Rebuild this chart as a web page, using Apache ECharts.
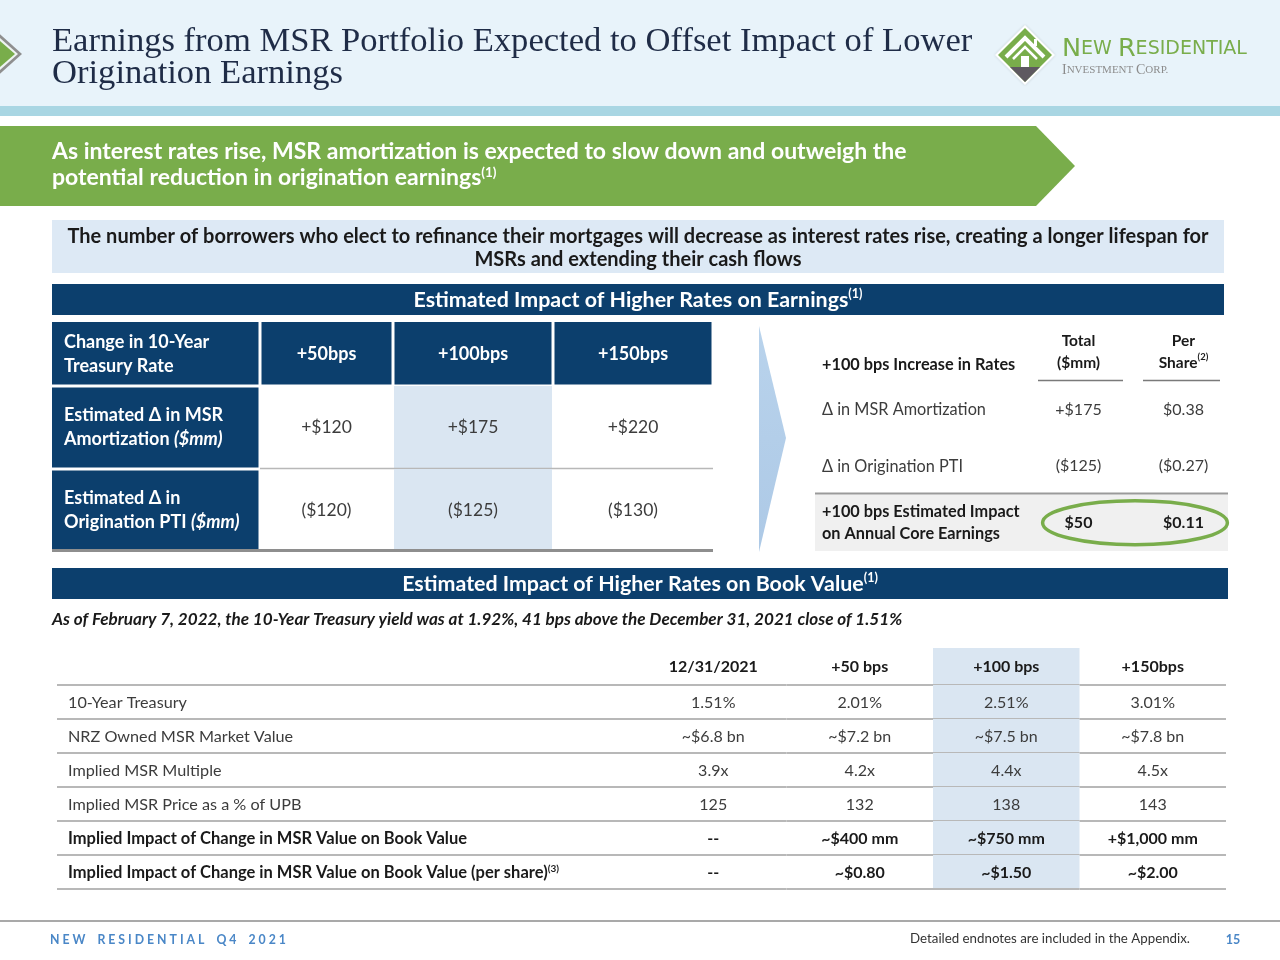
<!DOCTYPE html>
<html><head><meta charset="utf-8">
<script src="https://cdn.jsdelivr.net/npm/echarts@6/dist/echarts.min.js"></script>
<style>html,body{margin:0;padding:0;background:#fff}#c{width:1280px;height:960px}</style>
</head><body><div id="c"></div>
<script>
// ---------------- DATA ----------------
const titleLines = ['Earnings from MSR Portfolio Expected to Offset Impact of Lower', 'Origination Earnings'];
const bannerLines = ['As interest rates rise, MSR amortization is expected to slow down and outweigh the', 'potential reduction in origination earnings'];
const subtitleLines = ['The number of borrowers who elect to refinance their mortgages will decrease as interest rates rise, creating a longer lifespan for', 'MSRs and extending their cash flows'];
const earningsTitle = 'Estimated Impact of Higher Rates on Earnings';
const bookTitle = 'Estimated Impact of Higher Rates on Book Value';
const bookNote = 'As of February 7, 2022, the 10-Year Treasury yield was at 1.92%, 41 bps above the December 31, 2021 close of 1.51%';

// Earnings sensitivity table
const earningsHeaderLabel = ['Change in 10-Year', 'Treasury Rate'];
const rateShocks = ['+50bps', '+100bps', '+150bps'];
const earningsRowLabels = [['Estimated \u0394 in MSR', 'Amortization'], ['Estimated \u0394 in', 'Origination PTI']];
const earningsUnit = '($mm)';
const msrAmortizationChange = ['+$120', '+$175', '+$220'];
const originationPTIChange = ['($120)', '($125)', '($130)'];

// +100 bps summary table
const summaryHeaderLabel = '+100 bps Increase in Rates';
const summaryCols = [['Total', '($mm)'], ['Per', 'Share']];
const summaryColNotes = ['', '(2)'];
const summaryRowLabels = [['\u0394 in MSR Amortization'], ['\u0394 in Origination PTI'], ['+100 bps Estimated Impact', 'on Annual Core Earnings']];
const summaryTotal = ['+$175', '($125)', '$50'];
const summaryPerShare = ['$0.38', '($0.27)', '$0.11'];

// Book value table
const bookCols = ['12/31/2021', '+50 bps', '+100 bps', '+150bps'];
const bookRowLabels = ['10-Year Treasury', 'NRZ Owned MSR Market Value', 'Implied MSR Multiple', 'Implied MSR Price as a % of UPB', 'Implied Impact of Change in MSR Value on Book Value', 'Implied Impact of Change in MSR Value on Book Value (per share)'];
const bookRowNotes = ['', '', '', '', '', '(3)'];
const treasuryYield = ['1.51%', '2.01%', '2.51%', '3.01%'];
const msrMarketValue = ['~$6.8 bn', '~$7.2 bn', '~$7.5 bn', '~$7.8 bn'];
const msrMultiple = ['3.9x', '4.2x', '4.4x', '4.5x'];
const msrPricePctUPB = ['125', '132', '138', '143'];
const bookValueImpact = ['--', '~$400 mm', '~$750 mm', '+$1,000 mm'];
const bookValueImpactPerShare = ['--', '~$0.80', '~$1.50', '~$2.00'];

const footerLeft = 'NEW RESIDENTIAL Q4 2021';
const footerRight = 'Detailed endnotes are included in the Appendix.';
const pageNumber = '15';

// ---------------- STYLE ----------------
const SANS = 'Lato, "Noto Sans", sans-serif';
const SERIF = '"Liberation Serif", "DejaVu Serif", serif';
const NAVY = '#0c3f6d', GREEN = '#79ad4b', HILITE = '#dae6f2', DARK = '#1a1a1a', BODY = '#3c3c3c', LINE = '#b8b8b8';

function rs(size, weight, fill, style) {
  return { fontSize: size, fontWeight: weight || 'normal', fontStyle: style || 'normal', fontFamily: SANS, fill: fill, color: fill };
}
function supStyle(size, fill) {
  return { fontSize: size, fontWeight: 'bold', fontFamily: SANS, fill: fill, color: fill, verticalAlign: 'top', lineHeight: size };
}

// ---------------- TABLE HELPER ----------------
const grids = [], xAxes = [], yAxes = [], series = [];
function addTable(rect, cols, rows, cells, draw, z) {
  const gi = grids.length;
  grids.push({ left: rect[0], top: rect[1], width: rect[2], height: rect[3], show: false });
  xAxes.push({ type: 'category', gridIndex: gi, data: cols, show: false, boundaryGap: true });
  yAxes.push({ type: 'category', gridIndex: gi, data: rows, inverse: true, show: false, boundaryGap: true });
  series.push({
    type: 'custom', xAxisIndex: gi, yAxisIndex: gi, silent: true, clip: false, z: z || 2,
    data: cells.map(c => [c.col, c.row]),
    renderItem: function (params, api) {
      const cell = cells[params.dataIndex];
      const p = api.coord([api.value(0), api.value(1)]);
      const s = api.size([1, 1]);
      return { type: 'group', children: draw(cell, p[0] - s[0] / 2, p[1] - s[1] / 2, s[0], s[1]) };
    }
  });
}
function T(x, y, text, rich, align, va, extra) {
  return Object.assign({ type: 'text', style: { x: x, y: y, text: text, rich: rich, align: align || 'center', verticalAlign: va || 'middle' } }, extra || {});
}

// ---- Earnings table: header label ----
addTable([52, 322, 208, 64], ['label'], ['header'], [{ col: 0, row: 0, lines: earningsHeaderLabel }], (c, x, y, w, h) => [
  { type: 'rect', shape: { x: x, y: y, width: w - 1.5, height: h - 1.5 }, style: { fill: NAVY } },
  T(x + 12, y + h / 2, c.lines.map(l => '{b|' + l + '}').join('\n'), { b: Object.assign(rs(18, 'bold', '#fff'), { lineHeight: 24 }) }, 'left')
]);
// ---- Earnings table: header shocks + body (split into column groups) ----
const earnColGroups = [{ rect: [260, 0, 133], idx: [0] }, { rect: [393, 0, 320], idx: [1, 2] }];
earnColGroups.forEach(g => {
  const cols = g.idx.map(i => rateShocks[i]);
  addTable([g.rect[0], 322, g.rect[2], 64], cols, ['header'], cols.map((n, j) => ({ col: j, row: 0, text: n })), (c, x, y, w, h) => [
    { type: 'rect', shape: { x: x + 1.5, y: y, width: w - 3, height: h - 1.5 }, style: { fill: NAVY } },
    T(x + w / 2, y + h / 2, '{b|' + c.text + '}', { b: rs(18, 'bold', '#fff') })
  ]);
  const body = [msrAmortizationChange, originationPTIChange];
  const cells = [];
  body.forEach((arr, r) => g.idx.forEach((i, j) => cells.push({ col: j, row: r, text: arr[i], hi: rateShocks[i] === '+100bps' })));
  addTable([g.rect[0], 386, g.rect[2], 166], cols, ['amort', 'pti'], cells, (c, x, y, w, h) => {
    const out = [];
    if (c.hi) out.push({ type: 'rect', shape: { x: x + 1, y: y, width: w - 2, height: h }, style: { fill: HILITE } });
    if (c.row === 0) out.push({ type: 'line', shape: { x1: x, y1: y + h - 0.5, x2: x + w, y2: y + h - 0.5 }, style: { stroke: LINE, lineWidth: 1.5 } });
    else out.push({ type: 'line', shape: { x1: x, y1: y + h - 1.5, x2: x + w, y2: y + h - 1.5 }, style: { stroke: '#8e8e8e', lineWidth: 3 } });
    out.push(T(x + w / 2, y + h / 2, '{n|' + c.text + '}', { n: rs(17.5, 'normal', BODY) }));
    return out;
  });
});
// ---- Earnings table: body labels ----
addTable([52, 386, 208, 166], ['label'], ['amort', 'pti'], earningsRowLabels.map((l, r) => ({ col: 0, row: r, lines: l })), (c, x, y, w, h) => {
  const lines = c.lines.map((l, i) => '{b|' + l + (i === c.lines.length - 1 ? ' ' : '') + '}' + (i === c.lines.length - 1 ? '{bi|' + earningsUnit + '}' : ''));
  const out = [
    { type: 'rect', shape: { x: x, y: y + 1.5, width: w - 1.5, height: h - 3 }, style: { fill: NAVY } },
    T(x + 12, y + h / 2, lines.join('\n'), { b: Object.assign(rs(18, 'bold', '#fff'), { lineHeight: 24 }), bi: Object.assign(rs(18, 'bold', '#fff', 'italic'), { lineHeight: 24 }) }, 'left')
  ];
  if (c.row === 1) out.push({ type: 'line', shape: { x1: x, y1: y + h - 1.5, x2: x + w, y2: y + h - 1.5 }, style: { stroke: '#8e8e8e', lineWidth: 3 } });
  return out;
});

// ---- Summary table: labels ----
const sumRows = ['header', 'amort', 'pti', 'impact'];
const sumLabelCells = [{ col: 0, row: 0, lines: [summaryHeaderLabel], bold: true, header: true }].concat(
  summaryRowLabels.map((l, i) => ({ col: 0, row: i + 1, lines: l, bold: i === 2 })));
addTable([815, 325, 211, 226], ['label'], sumRows, sumLabelCells, (c, x, y, w, h) => {
  const out = [];
  if (c.row === 3) {
    out.push({ type: 'rect', shape: { x: x, y: y, width: w, height: h }, style: { fill: '#f0f0f0' } });
    out.push({ type: 'line', shape: { x1: x, y1: y - 1, x2: x + w, y2: y - 1 }, style: { stroke: '#9a9a9a', lineWidth: 2 } });
  }
  const st = Object.assign(rs(16.3, c.bold ? 'bold' : 'normal', c.bold ? DARK : BODY), { lineHeight: 22 });
  const cy = c.header ? y + h / 2 + 11 : y + h / 2;
  out.push(T(x + 7, cy, c.lines.map(l => '{t|' + l + '}').join('\n'), { t: st }, 'left'));
  return out;
});
// ---- Summary table: values ----
const sumCells = [];
summaryCols.forEach((lines, ci) => sumCells.push({ col: ci, row: 0, lines: lines, note: summaryColNotes[ci], header: true }));
[summaryTotal, summaryPerShare].forEach((arr, ci) => arr.forEach((v, r) => sumCells.push({ col: ci, row: r + 1, text: v })));
addTable([1026, 325, 210, 226], ['total', 'perShare'], sumRows, sumCells, (c, x, y, w, h) => {
  const out = [];
  const right = c.col === 1 ? x + w - 8 : x + w;
  if (c.row === 3) {
    out.push({ type: 'rect', shape: { x: x, y: y, width: right - x, height: h }, style: { fill: '#f0f0f0' } });
    out.push({ type: 'line', shape: { x1: x, y1: y - 1, x2: right, y2: y - 1 }, style: { stroke: '#9a9a9a', lineWidth: 2 } });
  }
  if (c.header) {
    const st = Object.assign(rs(15.5, 'bold', DARK), { lineHeight: 22 });
    const txt = c.lines.map((l, i) => '{t|' + l + '}' + (i === c.lines.length - 1 && c.note ? '{s|' + c.note + '}' : '')).join('\n');
    out.push(T(x + w / 2, y + h / 2 - 1, txt, { t: st, s: supStyle(9.5, DARK) }));
    out.push({ type: 'line', shape: { x1: x + 12, y1: y + h - 1, x2: right - 8, y2: y + h - 1 }, style: { stroke: '#7a7a7a', lineWidth: 1.5 } });
  } else {
    const bold = c.row === 3;
    out.push(T(x + w / 2, y + h / 2, '{t|' + c.text + '}', { t: rs(16, bold ? 'bold' : 'normal', bold ? DARK : BODY) }));
  }
  // highlight ring around the impact row, drawn with the last cell so it sits on top
  if (c.row === 3 && c.col === 1) {
    out.push({ type: 'ellipse', z2: 10, shape: { cx: x + 4, cy: y + h / 2, rx: w * 0.88, ry: 22 }, style: { fill: 'none', stroke: GREEN, lineWidth: 3.5 } });
  }
  return out;
});

// ---- Book value table ----
const bookData = [treasuryYield, msrMarketValue, msrMultiple, msrPricePctUPB, bookValueImpact, bookValueImpactPerShare];
const bookRowsCat = ['header'].concat(bookRowLabels);
const bookLabelCells = [{ col: 0, row: 0, text: '', note: '' }].concat(bookRowLabels.map((l, i) => ({ col: 0, row: i + 1, text: l, note: bookRowNotes[i], bold: i >= 4 })));
addTable([57, 651, 583, 238], ['label'], bookRowsCat, bookLabelCells, (c, x, y, w, h) => {
  const out = [{ type: 'line', shape: { x1: x, y1: y + h, x2: x + w, y2: y + h }, style: { stroke: LINE, lineWidth: 2 } }];
  if (c.text) {
    const st = rs(c.bold ? 16.5 : 16.2, c.bold ? 'bold' : 'normal', c.bold ? DARK : BODY);
    out.push(T(x + 11, y + h / 2 + 1, '{t|' + c.text + '}' + (c.note ? '{s|' + c.note + '}' : ''), { t: Object.assign(st, { lineHeight: 18 }), s: supStyle(10, DARK) }, 'left'));
  }
  return out;
});
const bookCells = [];
bookCols.forEach((n, ci) => bookCells.push({ col: ci, row: 0, text: n, bold: true, hi: n === '+100 bps' }));
bookData.forEach((arr, r) => arr.forEach((v, ci) => bookCells.push({ col: ci, row: r + 1, text: v, bold: r >= 4, hi: bookCols[ci] === '+100 bps' })));
addTable([640, 651, 586, 238], bookCols, bookRowsCat, bookCells, (c, x, y, w, h) => {
  const out = [];
  if (c.hi) out.push({ type: 'rect', shape: { x: x, y: c.row === 0 ? y - 3 : y, width: w, height: c.row === 0 ? h + 3 : h }, style: { fill: HILITE } });
  out.push({ type: 'line', shape: { x1: x, y1: y + h, x2: x + w, y2: y + h }, style: { stroke: LINE, lineWidth: 2 } });
  out.push(T(x + w / 2, y + h / 2 + (c.row === 0 ? -1 : 1), '{t|' + c.text + '}', { t: rs(16, c.bold ? 'bold' : 'normal', c.bold ? DARK : BODY) }));
  return out;
});

// ---------------- DECORATION (graphic) ----------------
function gt(x, y, text, rich, align, va) {
  return { type: 'text', silent: true, style: { x: x, y: y, text: text, rich: rich, align: align || 'left', verticalAlign: va || 'middle' } };
}
const titleStyle = { fontSize: 34.6, fontFamily: SERIF, fill: '#1f2c47', color: '#1f2c47' };
const logoBig = { fontSize: 25.5, fontFamily: '"DejaVu Sans", sans-serif', fill: GREEN, color: GREEN };
const logoSmall = { fontSize: 19, fontFamily: '"DejaVu Sans", sans-serif', fill: GREEN, color: GREEN };
const graphic = [
  { type: 'rect', shape: { x: 0, y: 0, width: 1280, height: 106 }, style: { fill: '#e8f3fa' } },
  { type: 'rect', shape: { x: 0, y: 106, width: 1280, height: 10 }, style: { fill: '#a9d6e3' } },
  // left diamond
  { type: 'polygon', shape: { points: [[-8, 27], [22, 54], [-8, 81], [-38, 54]] }, style: { fill: '#8f8f8f' } },
  { type: 'polygon', shape: { points: [[-8, 31], [18, 54], [-8, 77], [-34, 54]] }, style: { fill: '#eef4f2' } },
  { type: 'polygon', shape: { points: [[-8, 34], [15, 54], [-8, 74], [-31, 54]] }, style: { fill: GREEN } },
  // title
  gt(52, 42, '{t|' + titleLines[0] + '}', { t: titleStyle }),
  gt(52, 74, '{t|' + titleLines[1] + '}', { t: titleStyle }),
  // logo
  { type: 'polygon', shape: { points: [[1025, 25], [1055, 55], [1025, 85], [995, 55]] }, style: { fill: '#ffffff', shadowBlur: 3, shadowColor: 'rgba(0,0,0,0.15)' } },
  { type: 'polygon', shape: { points: [[1025, 28], [1052, 55], [1025, 82], [998, 55]] }, style: { fill: GREEN } },
  { type: 'polygon', shape: { points: [[1010, 67], [1040, 67], [1025, 82]] }, style: { fill: '#5e5960' } },
  { type: 'polyline', shape: { points: [[1006, 57], [1025, 38], [1044, 57]] }, style: { stroke: '#fff', lineWidth: 4, fill: 'none' } },
  { type: 'polyline', shape: { points: [[1013, 59], [1025, 47], [1037, 59]] }, style: { stroke: '#fff', lineWidth: 2.5, fill: 'none' } },
  { type: 'rect', shape: { x: 1034, y: 39, width: 3, height: 7 }, style: { fill: '#fff' } },
  { type: 'rect', shape: { x: 1021, y: 56, width: 8, height: 11 }, style: { fill: '#fff' } },
  gt(1062, 49, '{b|N}{s|EW }{b|R}{s|ESIDENTIAL}', { b: logoBig, s: logoSmall }),
  gt(1062, 70, '{b|I}{s|NVESTMENT }{b|C}{s|ORP.}', { b: { fontSize: 14, fontFamily: SERIF, fill: '#8c8c8c', color: '#8c8c8c' }, s: { fontSize: 11, fontFamily: SERIF, fill: '#8c8c8c', color: '#8c8c8c' } }),
  // green banner
  { type: 'polygon', shape: { points: [[0, 126], [1036, 126], [1075, 166], [1036, 206], [0, 206]] }, style: { fill: GREEN } },
  gt(52, 152, '{t|' + bannerLines[0] + '}', { t: rs(23, 'bold', '#fff') }),
  gt(52, 178, '{t|' + bannerLines[1] + '}{s|(1)}', { t: Object.assign(rs(23, 'bold', '#fff'), { lineHeight: 25 }), s: supStyle(13.5, '#fff') }),
  // subtitle
  { type: 'rect', shape: { x: 52, y: 220, width: 1172, height: 53 }, style: { fill: '#dde9f5' } },
  gt(638, 237, '{t|' + subtitleLines[0] + '}', { t: rs(20, 'bold', DARK) }, 'center'),
  gt(638, 260, '{t|' + subtitleLines[1] + '}', { t: rs(20, 'bold', DARK) }, 'center'),
  // section bars
  { type: 'rect', shape: { x: 52, y: 284, width: 1172, height: 31 }, style: { fill: NAVY } },
  gt(638, 300, '{t|' + earningsTitle + '}{s|(1)}', { t: Object.assign(rs(21.4, 'bold', '#fff'), { lineHeight: 25 }), s: supStyle(12.5, '#fff') }, 'center'),
  { type: 'rect', shape: { x: 52, y: 568, width: 1176, height: 31 }, style: { fill: NAVY } },
  gt(640, 584, '{t|' + bookTitle + '}{s|(1)}', { t: Object.assign(rs(21.4, 'bold', '#fff'), { lineHeight: 25 }), s: supStyle(12.5, '#fff') }, 'center'),
  // arrow
  { type: 'polygon', shape: { points: [[759, 326], [786, 438], [759, 552]] }, style: { fill: new echarts.graphic.LinearGradient(0, 0, 0, 1, [{ offset: 0, color: '#b9d3ec' }, { offset: 1, color: '#adc9e6' }]) } },
  // note
  gt(52, 619, '{t|' + bookNote + '}', { t: rs(17.1, 'bold', DARK, 'italic') }),
  // footer
  { type: 'line', shape: { x1: 0, y1: 921, x2: 1280, y2: 921 }, style: { stroke: '#8c8c8c', lineWidth: 1.5 } },
  gt(50, 940, '{t|' + footerLeft.split('').join(' ').replace(/   /g, '    ') + '}', { t: rs(12.3, 'bold', '#4a87c7') }),
  gt(1190, 939, '{t|' + footerRight + '}', { t: rs(13.3, 'normal', '#333') }, 'right'),
  gt(1233, 940, '{t|' + pageNumber + '}', { t: rs(12.5, 'bold', '#4a87c7') }, 'center')
];

const chart = echarts.init(document.getElementById('c'), null, { renderer: 'canvas', width: 1280, height: 960 });
chart.setOption({
  backgroundColor: '#ffffff',
  animation: false,
  grid: grids, xAxis: xAxes, yAxis: yAxes, series: series,
  graphic: graphic
});
</script></body></html>
